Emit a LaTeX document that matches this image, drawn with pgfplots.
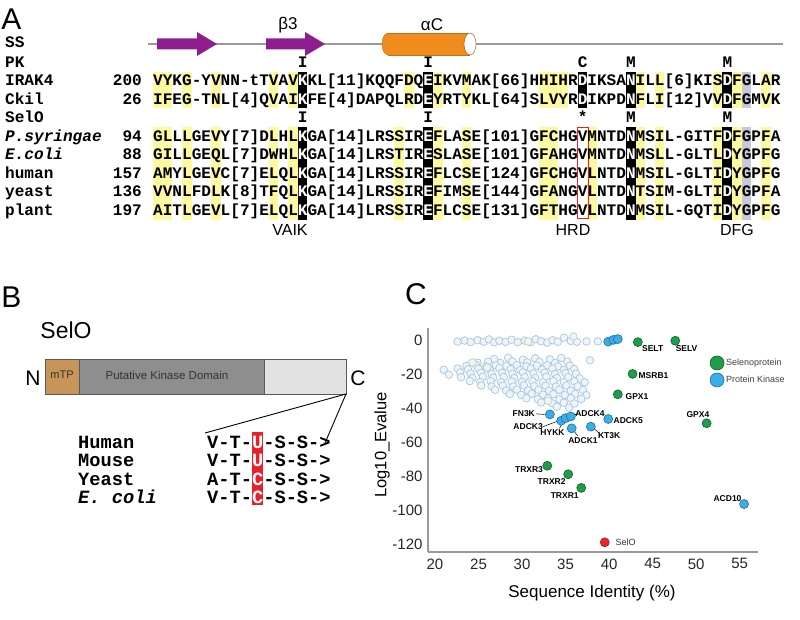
\documentclass[border=0pt]{standalone}
\usepackage{pgfplots}
\pgfplotsset{compat=1.18}
\usepackage{fontspec}
\setmainfont{Liberation Sans}
\setsansfont{Liberation Sans}
\setmonofont{Liberation Mono}
\definecolor{ssline}{HTML}{9A9A9A}
\definecolor{sspurple}{HTML}{8E1E8E}
\definecolor{ssorange}{HTML}{F08C1E}
\definecolor{hlyellow}{HTML}{FCF9A0}
\definecolor{hlgray}{HTML}{C8C8D6}
\definecolor{selred}{HTML}{E8202A}
\definecolor{mtp}{HTML}{C89558}
\definecolor{kdom}{HTML}{8E8E8E}
\definecolor{cterm}{HTML}{E2E2E2}
\definecolor{ptgreen}{HTML}{1E9E4A}
\definecolor{ptgreenE}{HTML}{0E5E28}
\definecolor{ptblue}{HTML}{3CAEE6}
\definecolor{ptblueE}{HTML}{1E6E9E}
\definecolor{ptred}{HTML}{E8262C}
\definecolor{cloudedge}{HTML}{A6C6E0}
\definecolor{cloudfill}{HTML}{EEF4FA}
\definecolor{cloudgreen}{HTML}{B8D8A8}
\definecolor{axgray}{HTML}{9A9A9A}
\newcommand{\sq}{\ttfamily\bfseries\fontsize{16.08}{18}\selectfont}
\newcommand{\sqi}{\ttfamily\bfseries\itshape\fontsize{16.08}{18}\selectfont}
\newcommand{\bq}{\ttfamily\bfseries\fontsize{18.7}{20}\selectfont}
\newcommand{\bqi}{\ttfamily\bfseries\itshape\fontsize{18.7}{20}\selectfont}
\newcommand{\lab}{\bfseries\fontsize{8.5}{9}\selectfont}
\newcommand{\w}[1]{\textcolor{white}{#1}}
\begin{document}
\begin{tikzpicture}
\begin{scope}[x=1pt,y=-1pt]
\useasboundingbox (0,0) rectangle (800,620);
% ---------------- Panel A ----------------
\node[font=\fontsize{30}{30}\selectfont] at (11.5,19) {A};
\draw[ssline, line width=1.2pt] (148,44) -- (783,44);
\fill[sspurple] (157,38.5) -- (197,38.5) -- (197,32) -- (217,44) -- (197,56) -- (197,49.5) -- (157,49.5) -- cycle;
\fill[sspurple] (266,38.5) -- (305,38.5) -- (305,32) -- (325,44) -- (305,56) -- (305,49.5) -- (266,49.5) -- cycle;
\filldraw[fill=ssorange, draw=ssorange!80!black] (388,44) ellipse [x radius=6, y radius=11];
\fill[ssorange] (388,33) rectangle (470,55);
\draw[ssorange!80!black] (388,33) -- (470,33) (388,55) -- (470,55);
\filldraw[fill=white, draw=ssorange!60!black] (470,44) ellipse [x radius=6, y radius=11];
\node[font=\fontsize{17}{17}\selectfont] at (288,25) {β3};
\node[font=\fontsize{17}{17}\selectfont] at (432,25) {αC};
% highlights
\foreach \c in {0,1,3,6,12,14,26,29,32,40,41,42,50,52,58,60,63}
  \fill[hlyellow] ({153+\c*9.65},71.75) rectangle ({153+(\c+1)*9.65},108.25);
\foreach \c in {0,1,3,6,12,14,25,29,32,40,41,45,50,52,58,60,63}
  \fill[hlyellow] ({153+\c*9.65},127.25) rectangle ({153+(\c+1)*9.65},219.75);
\foreach \c in {61}{
  \fill[hlgray] ({153+\c*9.65},71.75) rectangle ({153+(\c+1)*9.65},108.25);
  \fill[hlgray] ({153+\c*9.65},127.25) rectangle ({153+(\c+1)*9.65},219.75);}
\foreach \c in {15,28,44,49,59}
  \fill[black] ({153+\c*9.65},71.75) rectangle ({153+(\c+1)*9.65},108.25);
\foreach \c in {15,28,49,59}
  \fill[black] ({153+\c*9.65},127.25) rectangle ({153+(\c+1)*9.65},219.75);
\draw[selred, line width=0.9pt] ({153+44*9.65-0.5},127.5) rectangle ({153+45*9.65+1.5},218.5);
% labels column
\node[anchor=base west, inner sep=0, font=\sq] at (5,48) {SS};
\node[anchor=base west, inner sep=0, font=\sq] at (5,67.5) {PK};
\node[anchor=base west, inner sep=0, font=\sq] at (5,86) {IRAK4};
\node[anchor=base west, inner sep=0, font=\sq] at (5,104.5) {Ckil};
\node[anchor=base west, inner sep=0, font=\sq] at (5,123) {SelO};
\node[anchor=base west, inner sep=0, font=\sqi] at (5,141.5) {P.syringae};
\node[anchor=base west, inner sep=0, font=\sqi] at (5,160) {E.coli};
\node[anchor=base west, inner sep=0, font=\sq] at (5,178.5) {human};
\node[anchor=base west, inner sep=0, font=\sq] at (5,197) {yeast};
\node[anchor=base west, inner sep=0, font=\sq] at (5,215.5) {plant};
% numbers
\node[anchor=base east, inner sep=0, font=\sq] at (142,86) {200};
\node[anchor=base east, inner sep=0, font=\sq] at (142,104.5) {26};
\node[anchor=base east, inner sep=0, font=\sq] at (142,141.5) {94};
\node[anchor=base east, inner sep=0, font=\sq] at (142,160) {88};
\node[anchor=base east, inner sep=0, font=\sq] at (142,178.5) {157};
\node[anchor=base east, inner sep=0, font=\sq] at (142,197) {136};
\node[anchor=base east, inner sep=0, font=\sq] at (142,215.5) {197};
% sequences (letters on black columns set in white)
\node[anchor=base west, inner sep=0, font=\sq] at (153,86) {VYKG-YVNN-tTVAV\w{K}KL[11]KQQFDQ\w{E}IKVMAK[66]HHIHR\w{D}IKSA\w{N}ILL[6]KIS\w{D}FGLAR};
\node[anchor=base west, inner sep=0, font=\sq] at (153,104.5) {IFEG-TNL[4]QVAI\w{K}FE[4]DAPQLRD\w{E}YRTYKL[64]SLVYR\w{D}IKPD\w{N}FLI[12]VV\w{D}FGMVK};
\node[anchor=base west, inner sep=0, font=\sq] at (153,141.5) {GLLLGEVY[7]DLHL\w{K}GA[14]LRSSIR\w{E}FLASE[101]GFCHGVMNTD\w{N}MSIL-GITF\w{D}FGPFA};
\node[anchor=base west, inner sep=0, font=\sq] at (153,160) {GILLGEQL[7]DWHL\w{K}GA[14]LRSTIR\w{E}SLASE[101]GFAHGVMNTD\w{N}MSLL-GLTL\w{D}YGPFG};
\node[anchor=base west, inner sep=0, font=\sq] at (153,178.5) {AMYLGEVC[7]ELQL\w{K}GA[14]LRSSIR\w{E}FLCSE[124]GFCHGVLNTD\w{N}MSIL-GLTI\w{D}YGPFG};
\node[anchor=base west, inner sep=0, font=\sq] at (153,197) {VVNLFDLK[8]TFQL\w{K}GA[14]LRSSIR\w{E}FIMSE[144]GFANGVLNTD\w{N}TSIM-GLTI\w{D}YGPFA};
\node[anchor=base west, inner sep=0, font=\sq] at (153,215.5) {AITLGEVL[7]ELQL\w{K}GA[14]LRSSIR\w{E}FLCSE[131]GFTHGVLNTD\w{N}MSIL-GQTI\w{D}YGPFG};
% marker rows
\foreach \c/\l in {15/I,28/I,44/C,49/M,59/M}
  \node[anchor=base west, inner sep=0, font=\sq] at ({153+\c*9.65},67.5) {\l};
\foreach \c/\l in {15/I,28/I,44/*,49/M,59/M}
  \node[anchor=base west, inner sep=0, font=\sq] at ({153+\c*9.65},123) {\l};
\node[font=\fontsize{16}{16}\selectfont] at (290,230) {VAIK};
\node[font=\fontsize{16}{16}\selectfont] at (573,230) {HRD};
\node[font=\fontsize{16}{16}\selectfont] at (737,230) {DFG};
% ---------------- Panel B ----------------
\node[font=\fontsize{30}{30}\selectfont] at (11.5,297) {B};
\node[font=\fontsize{23}{23}\selectfont] at (66,330) {SelO};
\fill[mtp] (45,359) rectangle (79,394);
\fill[kdom] (79,359) rectangle (264,394);
\fill[cterm] (264,359) rectangle (346,394);
\draw[gray!70!black, line width=0.6pt] (45,359) rectangle (346,394) (79,359) -- (79,394) (264,359) -- (264,394);
\node[font=\fontsize{11}{11}\selectfont, text=black!80] at (62,375) {mTP};
\node[font=\fontsize{11.5}{11.5}\selectfont, text=black!80] at (167,375) {Putative Kinase Domain};
\node[font=\fontsize{21}{21}\selectfont] at (33,378) {N};
\node[font=\fontsize{21}{21}\selectfont] at (358,378) {C};
\draw[black, line width=0.9pt] (205,433) -- (346,394) -- (325,443);
\fill[selred] ({207+4*11.22},432) rectangle ({207+5*11.22},505);
\node[anchor=base west, inner sep=0, font=\bq] at (78,448) {Human};
\node[anchor=base west, inner sep=0, font=\bq] at (78,466.5) {Mouse};
\node[anchor=base west, inner sep=0, font=\bq] at (78,485) {Yeast};
\node[anchor=base west, inner sep=0, font=\bqi] at (78,503.5) {E. coli};
\node[anchor=base west, inner sep=0, font=\bq] at (207,448) {V-T-\w{U}-S-S->};
\node[anchor=base west, inner sep=0, font=\bq] at (207,466.5) {V-T-\w{U}-S-S->};
\node[anchor=base west, inner sep=0, font=\bq] at (207,485) {A-T-\w{C}-S-S->};
\node[anchor=base west, inner sep=0, font=\bq] at (207,503.5) {V-T-\w{C}-S-S->};
% ---------------- Panel C label ----------------
\node[font=\fontsize{30}{30}\selectfont] at (416,294) {C};
\end{scope}
\begin{axis}[
  at={(428pt,-552pt)}, anchor=south west,
  width=330pt, height=224pt, scale only axis,
  xmin=19.2, xmax=57.1, ymin=-124.7, ymax=7,
  axis lines=left,
  axis line style={-, draw=axgray, line width=1.4pt},
  xtick={20,25,...,55}, ytick={-120,-100,...,0},
  major tick length=0pt,
  /pgf/number format/assume math mode=true,
  tick label style={font=\fontsize{15}{15}\selectfont, text=black!85},
  xticklabel style={yshift=-3pt},
  yticklabel style={xshift=-2pt},
  xlabel={Sequence Identity (\%)}, ylabel={Log10\_Evalue},
  xlabel style={font=\fontsize{17}{17}\selectfont, at={(axis description cs:0.497,-0.183)}, anchor=center},
  ylabel style={font=\fontsize{16.5}{16.5}\selectfont, at={(axis description cs:-0.139,0.478)}, anchor=center},
  clip=false,
  legend style={at={(0.845,0.885)}, anchor=north west, draw=none, fill=none,
    font=\fontsize{9}{10}\selectfont, text=black!75, row sep=3pt},
  legend cell align=left,
]
\addplot[only marks, mark=*, mark size=3.8pt, mark options={draw=cloudedge, fill=cloudfill, line width=0.7pt}, forget plot] table {
x y
22.6 -1.0
23.4 -0.4
24.1 -1.3
24.9 -0.2
25.6 -1.1
26.2 0.3
26.8 -1.4
27.4 -0.5
28.1 -1.2
28.8 0.1
29.5 -1.3
30.3 -0.4
31.0 -1.4
31.6 0.4
32.2 -0.8
32.9 -1.6
33.5 -0.2
34.1 -1.1
34.8 1.3
35.6 -0.6
36.3 -1.1
37.4 -0.9
38.7 -0.9
34.5 -10.6
26.8 -11.2
28.4 -10.5
30.1 -11.6
31.5 -10.8
33.2 -11.4
24.9 -13.4
26.1 -12.8
27.5 -13.6
28.9 -12.6
30.6 -13.2
32.0 -12.9
33.8 -13.5
35.2 -12.7
37.8 -12.0
23.6 -15.3
24.7 -14.8
25.9 -15.6
27.0 -15.0
28.2 -15.4
29.4 -14.7
30.5 -15.5
31.7 -15.1
32.9 -14.9
34.1 -15.6
35.5 -15.2
21.0 -17.6
22.6 -16.8
23.8 -17.3
25.0 -16.9
26.3 -17.5
27.4 -16.6
28.7 -17.2
29.8 -17.7
31.0 -16.8
32.3 -17.4
33.5 -16.9
34.8 -17.6
36.0 -17.1
21.6 -20.4
22.9 -19.2
24.1 -19.8
25.3 -19.3
26.5 -20.0
27.7 -19.4
28.9 -19.9
30.1 -19.1
31.3 -19.7
32.6 -19.3
33.8 -20.1
35.0 -19.5
36.2 -19.9
23.0 -21.9
24.3 -22.4
25.5 -21.7
26.7 -22.2
27.9 -21.8
29.1 -22.5
30.3 -21.9
31.5 -22.3
32.8 -21.6
34.0 -22.4
35.3 -21.9
36.6 -22.6
24.0 -24.2
25.2 -24.8
26.4 -24.3
27.6 -24.9
28.8 -24.4
30.0 -24.7
31.2 -24.2
32.4 -24.9
33.6 -24.3
34.8 -24.8
36.0 -24.4
37.2 -24.9
25.3 -26.8
26.5 -27.3
27.8 -26.9
29.0 -27.4
30.2 -26.7
31.4 -27.2
32.7 -26.9
33.9 -27.5
35.1 -26.8
36.4 -27.3
26.9 -29.3
28.2 -29.8
29.4 -29.2
30.7 -29.7
31.9 -29.4
33.1 -29.9
34.3 -29.3
35.6 -29.8
37.0 -29.4
28.6 -31.8
29.9 -32.3
31.1 -31.7
32.4 -32.2
33.6 -31.9
34.9 -32.4
36.1 -31.8
37.4 -32.5
30.5 -34.3
31.8 -34.8
33.0 -34.4
34.3 -34.9
35.6 -34.3
36.8 -34.7
32.2 -36.8
33.5 -37.3
34.8 -36.9
36.0 -37.4
34.0 -39.3
35.4 -39.8
};
\addplot[only marks, mark=*, mark size=3.8pt, mark options={draw=cloudgreen, fill=cloudfill, line width=0.7pt}, forget plot] table {
x y
30.7 -0.9
35.9 2.0
26.0 -16.2
33.0 -35.8
24.3 -13.2
};
\addlegendimage{only marks, mark=*, mark size=7pt, mark options={draw=ptgreenE, fill=ptgreen, line width=0.6pt}}
\addlegendentry{Selenoprotein}
\addlegendimage{only marks, mark=*, mark size=7pt, mark options={draw=ptblueE, fill=ptblue, line width=0.6pt}}
\addlegendentry{Protein Kinase}
\addplot[only marks, mark=*, mark size=4.5pt, mark options={draw=ptgreenE, fill=ptgreen, line width=0.6pt}, forget plot] table {
x y
43.3 -1.3
47.6 -0.5
42.7 -20
41.0 -32
51.2 -49
32.9 -74
35.3 -79
36.8 -87
};
\addplot[only marks, mark=*, mark size=4.5pt, mark options={draw=ptblueE, fill=ptblue, line width=0.6pt}, forget plot] table {
x y
39.9 -1.0
40.5 0.0
41.0 0.5
33.2 -43.8
34.5 -47.5
35.0 -46.0
35.6 -45.0
39.9 -46.5
35.7 -52.0
37.9 -51.0
55.5 -96.5
};
\addplot[only marks, mark=*, mark size=4.5pt, mark options={draw=ptred!70!black, fill=ptred, line width=0.6pt}, forget plot] table {
x y
39.5 -119
};
% leader lines
\draw[black, line width=0.5pt] (axis cs:31.6,-43.5) -- (axis cs:32.6,-43.8);
\draw[black, line width=0.5pt] (axis cs:32.4,-51.0) -- (axis cs:34.1,-47.8);
\draw[black, line width=0.5pt] (axis cs:34.3,-52.0) -- (axis cs:34.8,-47.3);
\draw[black, line width=0.5pt] (axis cs:36.3,-43.5) -- (axis cs:35.7,-44.6);
\draw[black, line width=0.5pt] (axis cs:36.4,-56.5) -- (axis cs:35.9,-53.2);
\draw[black, line width=0.5pt] (axis cs:38.2,-51.8) -- (axis cs:38.9,-55.0);
% point labels
\node[font=\lab] at (axis cs:45.0,-5.3) {SELT};
\node[font=\lab] at (axis cs:48.9,-5.3) {SELV};
\node[font=\lab] at (axis cs:45.1,-21) {MSRB1};
\node[font=\lab] at (axis cs:43.2,-33.5) {GPX1};
\node[font=\lab] at (axis cs:50.2,-44) {GPX4};
\node[font=\lab] at (axis cs:30.2,-43.5) {FN3K};
\node[font=\lab] at (axis cs:30.7,-51) {ADCK3};
\node[font=\lab] at (axis cs:33.5,-54.7) {HYKK};
\node[font=\lab] at (axis cs:37.8,-43.5) {ADCK4};
\node[font=\lab] at (axis cs:42.2,-47.6) {ADCK5};
\node[font=\lab] at (axis cs:37.0,-59.4) {ADCK1};
\node[font=\lab] at (axis cs:40.0,-56) {KT3K};
\node[font=\lab] at (axis cs:30.8,-76.5) {TRXR3};
\node[font=\lab] at (axis cs:33.4,-83.5) {TRXR2};
\node[font=\lab] at (axis cs:34.9,-91.8) {TRXR1};
\node[font=\lab] at (axis cs:53.6,-93) {ACD10};
\node[font=\fontsize{9}{9}\selectfont, text=black!80] at (axis cs:41.9,-119) {SelO};
\end{axis}
\end{tikzpicture}
\end{document}
